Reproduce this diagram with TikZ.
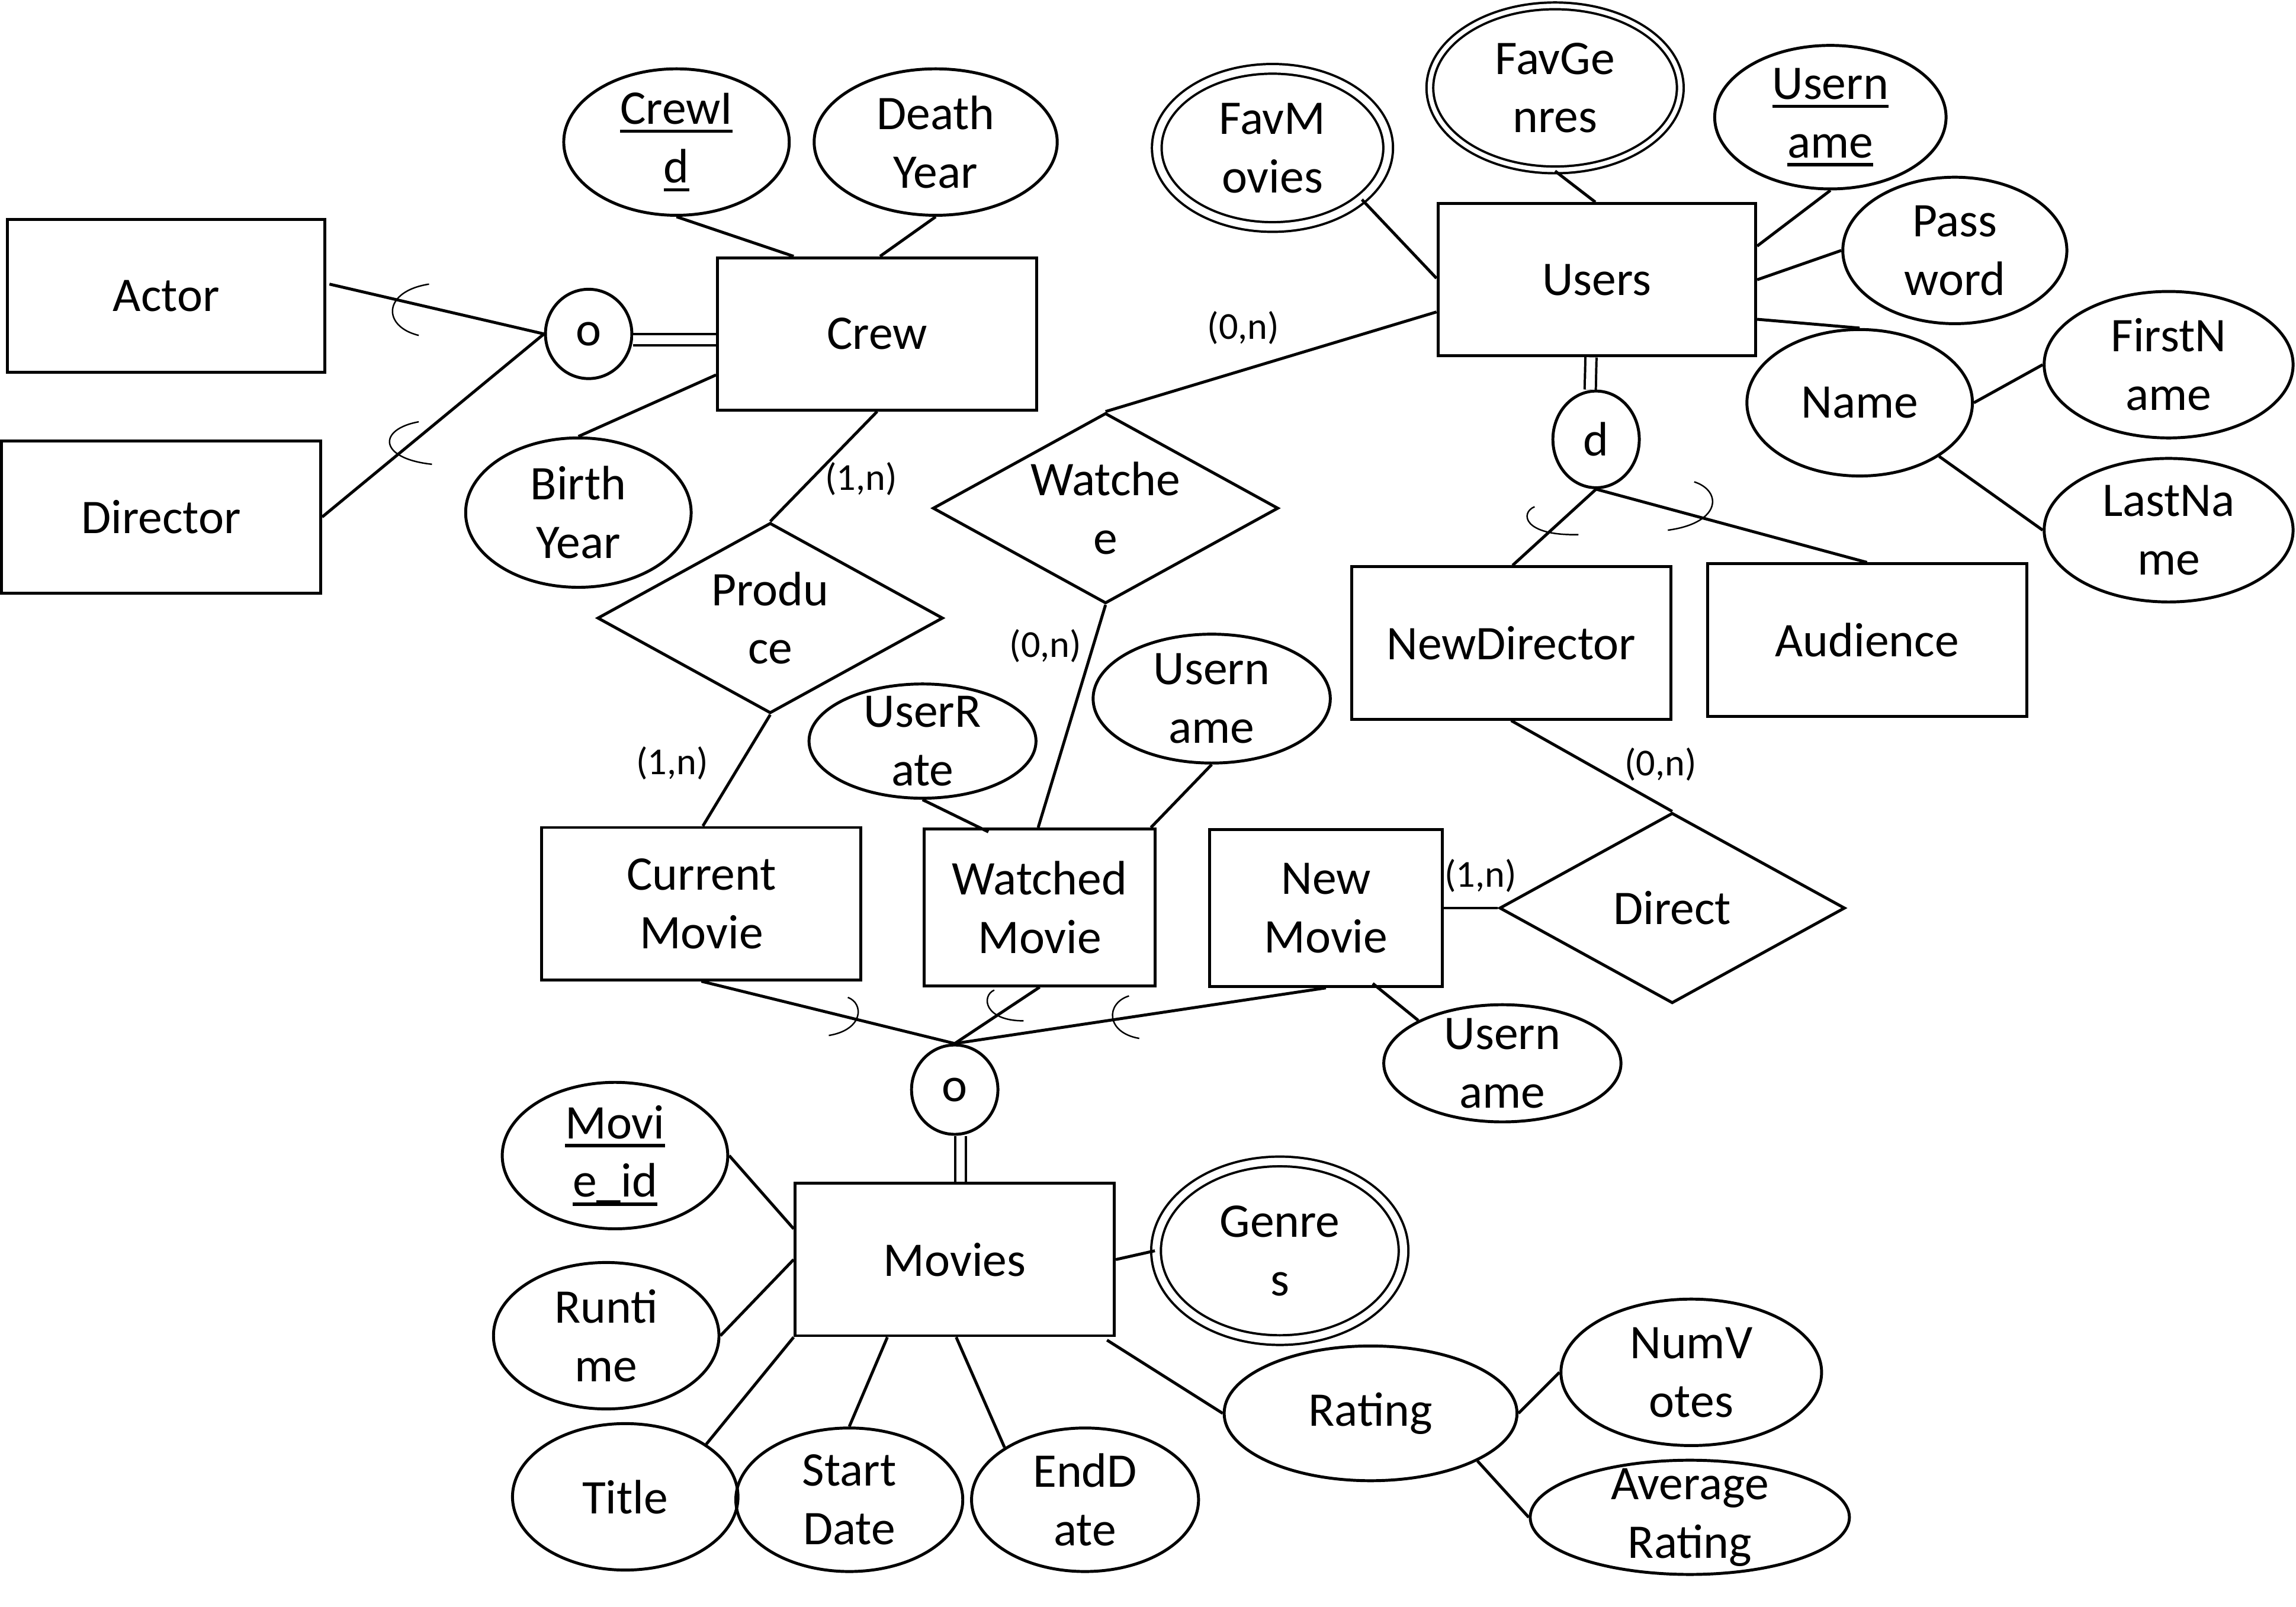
\documentclass[tikz,border=0pt]{standalone}
\usepackage{fontspec}
\setmainfont{Carlito}
\usetikzlibrary{shapes.geometric,calc}
\newcommand{\ulx}[1]{\setbox0=\hbox{#1}\rlap{\rule[-6pt]{\wd0}{2.2pt}}\box0}
\newcommand{\attnode}[6]{%
  \node[attr, minimum width=#4pt, minimum height=#5pt] (#1) at (#2,#3) {};
  \node[txt] (#1-t) at (#1.center) {#6};}
\newcommand{\mvnode}[6]{%
  \node[attr, mv, minimum width=#4pt, minimum height=#5pt] (#1) at (#2,#3) {};
  \node[txt] (#1-t) at (#1.center) {#6};}
\newcommand{\relnode}[4]{%
  \node[rel] (#1) at (#2,#3) {};
  \node[txt] (#1-t) at (#1.center) {#4};}
\begin{document}
\begin{tikzpicture}[x=1pt,y=-1pt,line width=2pt,
  every node/.style={font=\fontsize{33}{40}\selectfont, inner sep=0pt},
  ent/.style={draw, rectangle, minimum width=218pt, minimum height=104pt, align=center},
  attr/.style={draw, ellipse},
  mv/.style={double, double distance=5pt, line width=1.6pt},
  rel/.style={draw, diamond, minimum width=236pt, minimum height=130pt},
  txt/.style={align=center},
  circ/.style={draw, ellipse, minimum width=59pt, minimum height=61pt},
  card/.style={font=\fontsize{26}{30}\selectfont},
  dbl/.style={double, double distance=6pt, line width=1.6pt},
  arcl/.style={line width=1pt}]
\useasboundingbox (0,0) rectangle (1568,1097.2);

% entities
\node[ent, minimum width=217pt] (actor) at (113.5,202) {Actor};
\node[ent] (director) at (110,353) {Director};
\node[ent] (crew) at (599,228) {Crew};
\node[ent, minimum width=217pt] (users) at (1090.5,191) {Users};
\node[ent] (newdir) at (1032,439) {NewDirector};
\node[ent] (audience) at (1275,437) {Audience};
\node[ent] (current) at (479,617) {Current\\Movie};
\node[ent, minimum width=158pt, minimum height=107pt] (watched) at (710,619.5) {Watched\\Movie};
\node[ent, minimum width=159pt, minimum height=107pt] (newmovie) at (905.5,620) {New\\Movie};
\node[ent] (movies) at (652,860) {Movies};

% specialisation circles
\node[circ] (o1) at (402,228) {o};
\node[circ, minimum height=66pt] (d) at (1090,300) {d};
\node[circ] (o2) at (652,744) {o};

% relationships
\relnode{produce}{526}{422}{Produ\\ce}
\relnode{watche}{755}{347}{Watche\\e}
\relnode{direct}{1142}{620}{Direct}

% attributes
\attnode{crewid}{462}{97}{154}{100}{\ulx{CrewI}\\\ulx{d}}
\attnode{deathyear}{639}{97}{166}{100}{Death\\Year}
\attnode{birthyear}{395}{350}{154}{102}{Birth\\Year}
\mvnode{favmovies}{869}{101}{158}{108}{FavM\\ovies}
\node[attr, double, double distance=3pt, line width=1.6pt, minimum width=171pt, minimum height=112pt] (favgenres) at (1062,60) {};
\node[txt] (favgenres-t) at (favgenres.center) {FavGe\\nres};
\attnode{username}{1250}{80}{158}{98}{\ulx{Usern}\\\ulx{ame}}
\attnode{password}{1335}{171}{153}{100}{Pass\\word}
\attnode{name}{1270}{275}{154}{100}{Name}
\attnode{firstname}{1481}{249}{170}{100}{FirstN\\ame}
\attnode{lastname}{1481}{362}{170}{98}{LastNa\\me}
\attnode{userrate}{630}{506}{155}{78}{UserR\\ate}
\attnode{username2}{827.5}{477}{162}{88}{Usern\\ame}
\attnode{username3}{1026}{726}{162}{80}{Usern\\ame}
\attnode{movieid}{420}{789}{154}{100}{\ulx{Movi}\\\ulx{e\_id}}
\mvnode{genres}{874}{854}{169}{122}{Genre\\s}
\attnode{runtime}{414}{912}{154}{100}{Runti\\me}
\attnode{title}{427}{1022}{154}{100}{Title}
\attnode{startdate}{580}{1024}{155}{98}{Start\\Date}
\attnode{enddate}{741}{1024}{155}{98}{EndD\\ate}
\attnode{rating}{936}{965}{200}{92}{Rating}
\attnode{numvotes}{1155}{937}{178}{100}{NumV\\otes}
\attnode{avgrating}{1154}{1036}{218}{78}{Average\\Rating}

% cardinality labels
\node[card] (c1) at (588,327) {(1,n)};
\node[card] (c2) at (459,521) {(1,n)};
\node[card] (c3) at (849,224) {(0,n)};
\node[card] (c4) at (714,441) {(0,n)};
\node[card] (c5) at (1011,598) {(1,n)};
\node[card] (c6) at (1134,522) {(0,n)};

% connectors: crew side
\draw ($(actor.east)+(2,-8)$) -- (o1.west);
\draw (director.east) -- (o1.west);
\draw[dbl] ($(o1.east)+(0,4)$) -- ($(crew.west)+(0,4)$);
\draw (crewid.south) -- ($(crew.north west)+(53,0)$);
\draw (deathyear.south) -- ($(crew.north)+(2,0)$);
\draw ($(crew.south west)+(0,-25)$) -- (birthyear.north);
\draw (crew.south) -- (produce.north);
\draw (produce.south) -- ($(current.north)+(1,0)$);

% watch
\draw (watche.north) -- ($(users.west)+(0,22)$);
\draw (watche.south) -- ($(watched.north)+(-1,0)$);
\draw (userrate.south) -- ($(watched.north west)+(45,3)$);
\draw (username2.south) -- ($(watched.north east)+(-4,0)$);

% direct
\draw (newmovie.east) -- (direct.west);
\draw (newdir.south) -- (direct.north);
\draw ($(newmovie.south)+(32,-3)$) -- (username3.153);

% movie specialisation
\draw (current.south) -- (o2.north);
\draw (watched.south) -- (o2.north);
\draw (newmovie.south) -- (o2.north);
\draw[dbl] ($(o2.south)+(4,0)$) -- ($(movies.north)+(4,0)$);

% users
\draw[dbl] ($(users.south)+(-4,0)$) -- ($(d.north)+(-4,0)$);
\draw (d.south) -- ($(newdir.north)+(1,0)$);
\draw (d.south) -- (audience.north);
\draw (favmovies.-30) -- ($(users.west)+(0,-1)$);
\draw (favgenres.south) -- ($(users.north)+(-1,0)$);
\draw (username.south) -- ($(users.east)+(0,-23)$);
\draw (users.east) -- (password.west);
\draw ($(users.east)+(0,27)$) -- (name.north);
\draw (name.east) -- (firstname.west);
\draw (name.-34) -- (lastname.west);

% movies attributes
\draw (movieid.east) -- ($(movies.west)+(0,-21)$);
\draw (runtime.east) -- (movies.west);
\draw (title.33) -- (movies.south west);
\draw (startdate.north) -- ($(movies.south west)+(64,0)$);
\draw (enddate.147) -- ($(movies.south)+(1,0)$);
\draw (movies.east) -- (genres.west);
\draw ($(movies.south east)+(-6,2)$) -- (rating.west);
\draw (rating.east) -- (numvotes.west);
\draw (rating.-24) -- (avgrating.west);

% subset arcs
\draw[arcl] (293,194) .. controls (261,199) and (261,223) .. (286,229);
\draw[arcl] (286,288) .. controls (258,293) and (258,313) .. (295,317);
\draw[arcl] (1048,346) .. controls (1038,350) and (1040,366) .. (1078,365);
\draw[arcl] (1157,329) .. controls (1176,335) and (1176,357) .. (1139,362);
\draw[arcl] (579,681) .. controls (590,685) and (590,703) .. (566,707);
\draw[arcl] (679,676) .. controls (670,680) and (672,697) .. (699,697);
\draw[arcl] (771,680) .. controls (755,685) and (755,705) .. (778,709);
\end{tikzpicture}
\end{document}
